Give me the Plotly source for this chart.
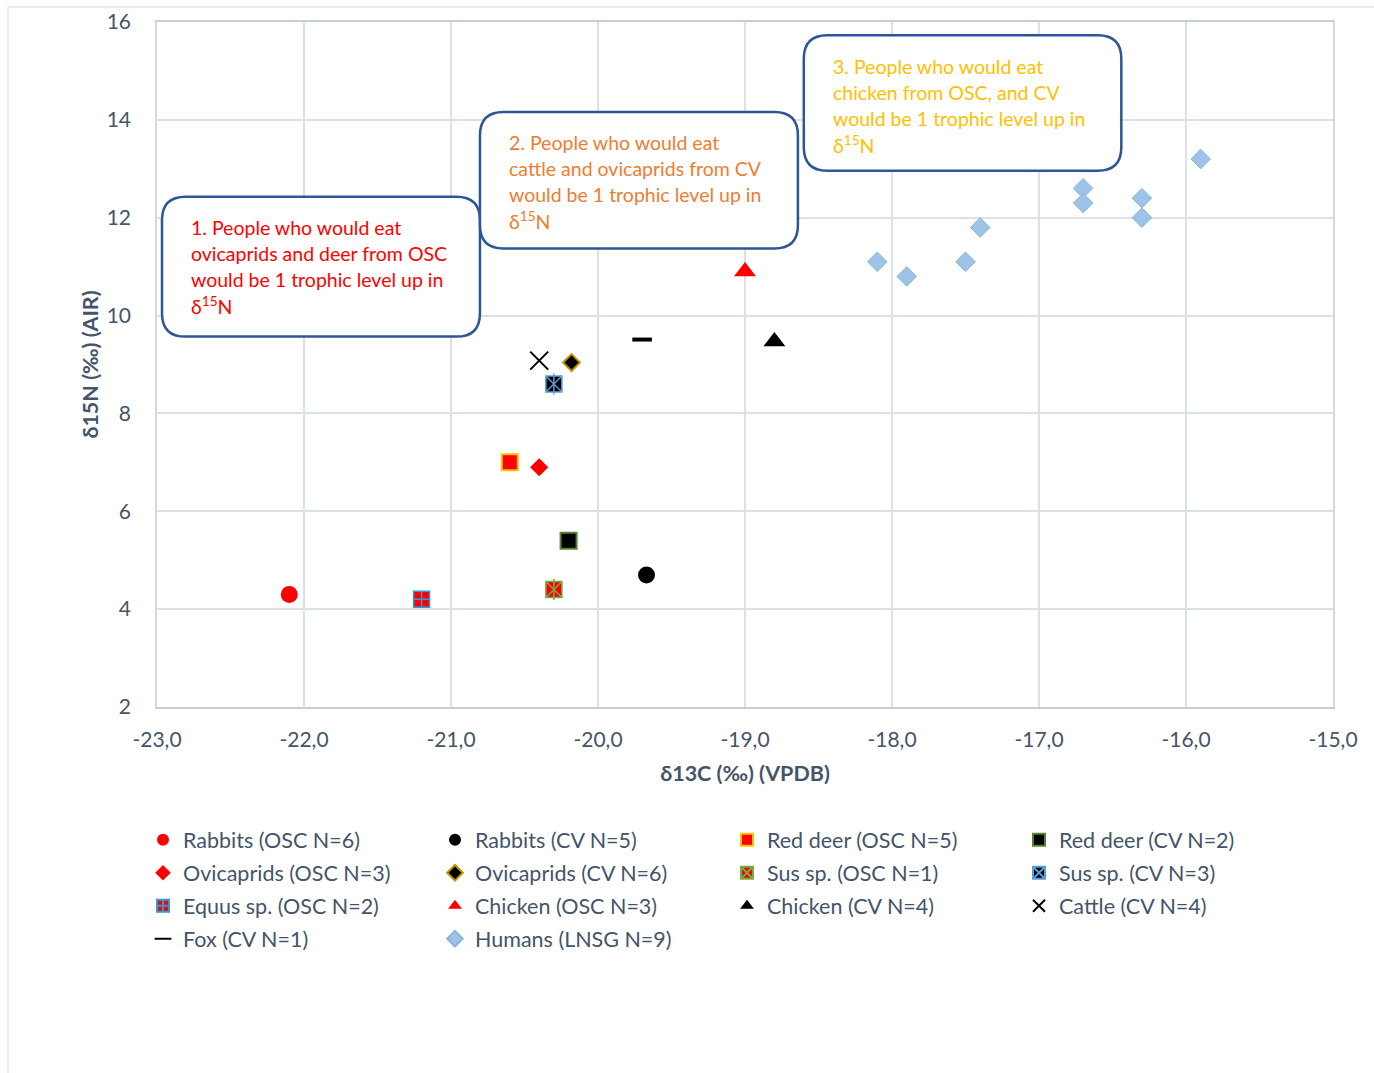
import plotly.graph_objects as go

# Isotope values: (d13C, d15N) per group
rabbits_osc_x = [-22.10]; rabbits_osc_y = [4.30]
rabbits_cv_x = [-19.67]; rabbits_cv_y = [4.70]
reddeer_osc_x = [-20.60]; reddeer_osc_y = [7.00]
reddeer_cv_x = [-20.20]; reddeer_cv_y = [5.40]
ovi_osc_x = [-20.40]; ovi_osc_y = [6.90]
ovi_cv_x = [-20.18]; ovi_cv_y = [9.04]
sus_osc_x = [-20.30]; sus_osc_y = [4.40]
sus_cv_x = [-20.30]; sus_cv_y = [8.60]
equus_osc_x = [-21.20]; equus_osc_y = [4.20]
chicken_osc_x = [-19.00]; chicken_osc_y = [10.90]
chicken_cv_x = [-18.80]; chicken_cv_y = [9.47]
cattle_cv_x = [-20.40]; cattle_cv_y = [9.08]
fox_cv_x = [-19.70]; fox_cv_y = [9.51]
humans_x = [-18.10, -17.90, -17.50, -17.40, -16.70, -16.70, -16.30, -16.30, -15.90]
humans_y = [11.10, 10.80, 11.10, 11.80, 12.60, 12.30, 12.40, 12.00, 13.20]

x_ticks = [-23, -22, -21, -20, -19, -18, -17, -16, -15]
y_ticks = [2, 4, 6, 8, 10, 12, 14, 16]

TEXT = "#44546A"
FONT = "Lato"

fig = go.Figure()


def add(name, x, y, symbol, color, size, line_color=None, line_width=0,
        legend="legend", show=True):
    fig.add_trace(go.Scatter(
        x=x, y=y, mode="markers", name=name, showlegend=show,
        legend=legend, legendgroup=name or None,
        marker=dict(symbol=symbol, color=color, size=size,
                    line=dict(color=line_color or color, width=line_width)),
        hoverinfo="name+x+y",
    ))


# column 1 of the key
add("Rabbits (OSC N=6)", rabbits_osc_x, rabbits_osc_y, "circle", "#FF0000", 17)
add("Ovicaprids (OSC N=3)", ovi_osc_x, ovi_osc_y, "diamond", "#FF0000", 14)
add("Equus sp. (OSC N=2)", equus_osc_x, equus_osc_y, "square-cross", "#FF0000", 16, "#2E9BD6", 1.5)
add("Fox (CV N=1)", fox_cv_x, fox_cv_y, "line-ew-open", "#000000", 14, "#000000", 4)
# column 2
add("Rabbits (CV N=5)", rabbits_cv_x, rabbits_cv_y, "circle", "#000000", 17, legend="legend2")
add("Ovicaprids (CV N=6)", ovi_cv_x, ovi_cv_y, "diamond", "#000000", 13, "#BF9000", 2, legend="legend2")
add("Chicken (OSC N=3)", chicken_osc_x, chicken_osc_y, "triangle-up", "#FF0000", 19, legend="legend2")
add("Humans (LNSG N=9)", humans_x, humans_y, "diamond", "#9DC3E6", 15, "#8AB4DF", 1, legend="legend2")
# column 3
add("Red deer (OSC N=5)", reddeer_osc_x, reddeer_osc_y, "square", "#FF0000", 16, "#FFC000", 2, legend="legend3")
add("Sus sp. (OSC N=1)", sus_osc_x, sus_osc_y, "square-x", "#FF0000", 16, "#70AD47", 1.5, legend="legend3")
add("Chicken (CV N=4)", chicken_cv_x, chicken_cv_y, "triangle-up", "#000000", 19, legend="legend3")
# column 4
add("Red deer (CV N=2)", reddeer_cv_x, reddeer_cv_y, "square", "#000000", 16, "#548235", 2, legend="legend4")
add("Sus sp. (CV N=3)", sus_cv_x, sus_cv_y, "square-x", "#000000", 16, "#5B9BD5", 1.5, legend="legend4")
add("Cattle (CV N=4)", cattle_cv_x, cattle_cv_y, "x-thin-open", "#000000", 18, "#000000", 2, legend="legend4")

# vertical stroke completing the asterisk glyph of the Sus markers
add("", sus_osc_x, sus_osc_y, "line-ns-open", "#70AD47", 15, "#70AD47", 1.5, show=False)
add("", sus_cv_x, sus_cv_y, "line-ns-open", "#5B9BD5", 15, "#5B9BD5", 1.5, show=False)


def rounded_box(x0, y0, x1, y1, rx, ry):
    return (f"M {x0 + rx},{y1} L {x1 - rx},{y1} Q {x1},{y1} {x1},{y1 - ry} "
            f"L {x1},{y0 + ry} Q {x1},{y0} {x1 - rx},{y0} "
            f"L {x0 + rx},{y0} Q {x0},{y0} {x0},{y0 + ry} "
            f"L {x0},{y1 - ry} Q {x0},{y1} {x0 + rx},{y1} Z")


notes = [
    dict(box=(-22.966, 9.57, -20.803, 12.43), color="#FF0000",
         lines=["1. People who would eat", "ovicaprids and deer from OSC",
                "would be 1 trophic level up in", "δ<sup>15</sup>N"]),
    dict(box=(-20.803, 11.37, -18.64, 14.16), color="#ED7D31",
         lines=["2. People who would eat", "cattle and ovicaprids from CV",
                "would be 1 trophic level up in", "δ<sup>15</sup>N"]),
    dict(box=(-18.60, 12.96, -16.44, 15.73), color="#FFC000",
         lines=["3. People who would eat", "chicken from OSC, and CV",
                "would be 1 trophic level up in", "δ<sup>15</sup>N"]),
]

shapes = []
annotations = []
for n in notes:
    x0, y0, x1, y1 = n["box"]
    shapes.append(dict(type="path", xref="x", yref="y",
                       path=rounded_box(x0, y0, x1, y1, 0.16, 0.48),
                       line=dict(color="#2F5597", width=2.5),
                       fillcolor="white", layer="above"))
    tx = x0 + 27 / 147
    for i, line in enumerate(n["lines"]):
        ty = y1 - (31 + 26 * i) / 49
        annotations.append(dict(x=tx, y=ty, xref="x", yref="y", text=line,
                                showarrow=False, xanchor="left", yanchor="middle",
                                font=dict(family=FONT, size=19.5, color=n["color"])))

# outer chart frame
shapes.append(dict(type="rect", xref="paper", yref="paper",
                   x0=-0.1267, x1=1.05, y0=-0.56, y1=1.0219,
                   line=dict(color="#D9D9D9", width=1), fillcolor="rgba(0,0,0,0)",
                   layer="below"))

legend_font = dict(family=FONT, size=21.5, color=TEXT)
leg_common = dict(orientation="v", xanchor="left", y=-0.164, yanchor="top",
                  itemsizing="constant", font=legend_font, tracegroupgap=2,
                  bgcolor="rgba(0,0,0,0)", traceorder="grouped")
col_px = [143, 435, 727, 1019]
col_x = [(p - 157) / 1176 for p in col_px]

fig.update_layout(
    width=1374, height=1073,
    margin=dict(l=157, r=41, t=22, b=366, autoexpand=False),
    paper_bgcolor="white", plot_bgcolor="white",
    font=dict(family=FONT, size=21, color=TEXT),
    shapes=shapes, annotations=annotations,
    showlegend=True,
    legend=dict(x=col_x[0], **leg_common),
    legend2=dict(x=col_x[1], **leg_common),
    legend3=dict(x=col_x[2], **leg_common),
    legend4=dict(x=col_x[3], **leg_common),
)

fig.update_xaxes(
    range=[-23, -15], tickvals=x_ticks,
    ticktext=[f"{v:.1f}".replace(".", ",") for v in x_ticks],
    showgrid=True, gridcolor="#DCE0E7", gridwidth=1.5,
    showline=True, linecolor="#C9CED6", linewidth=1.5, mirror=True,
    zeroline=False, ticks="", ticklabelstandoff=13,
    title=dict(text="<b>δ13C (‰) (VPDB)</b>", font=dict(family=FONT, size=21.5, color=TEXT),
               standoff=16),
)
fig.update_yaxes(
    range=[2, 16], tickvals=y_ticks, ticktext=[str(v) for v in y_ticks],
    showgrid=True, gridcolor="#DCE0E7", gridwidth=1.5,
    showline=True, linecolor="#D5D9E0", linewidth=1.5, mirror=True,
    zeroline=False, ticks="", ticklabelstandoff=20,
    title=dict(text="<b>δ15N (‰) (AIR)</b>", font=dict(family=FONT, size=21.5, color=TEXT),
               standoff=2),
)

fig.write_html("out.html")
